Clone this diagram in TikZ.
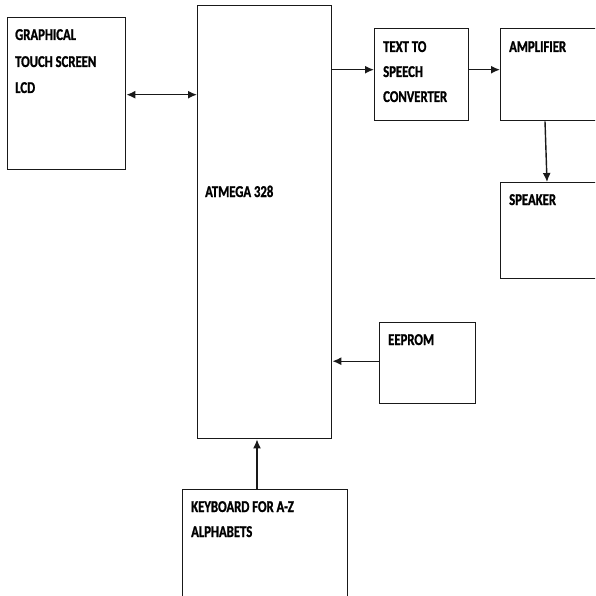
\documentclass[tikz,border=0pt]{standalone}
\usepackage{fontspec}
\setmainfont{Carlito}[FakeStretch=0.77,FakeBold=1.2]
\usetikzlibrary{arrows.meta}
\begin{document}
\begin{tikzpicture}[x=1pt,y=-1pt,
  box/.style={draw=black!90,line width=1.4pt,rectangle,inner sep=0pt,anchor=north west},
  lbl/.style={anchor=base west,inner sep=0pt,font=\fontsize{16.5}{19}\selectfont\bfseries,text=black},
  conn/.style={draw=black!90,line width=1.4pt,-{Latex[length=9pt,width=8pt]}}]
\useasboundingbox (0,0) rectangle (595,596);
\clip (0,0) rectangle (595,596);
% boxes
\node[box,minimum width=118pt,minimum height=152pt] (lcd) at (7,17) {};
\node[box,minimum width=134pt,minimum height=433pt] (atm) at (197,5) {};
\node[box,minimum width=94pt,minimum height=92pt] (tts) at (374,28) {};
\node[box,minimum width=100pt,minimum height=92pt] (amp) at (500,28) {};
\node[box,minimum width=100pt,minimum height=96pt] (spk) at (500,182) {};
\node[box,minimum width=96pt,minimum height=81pt] (eep) at (379,322) {};
\node[box,minimum width=165pt,minimum height=130pt] (kbd) at (182,489) {};
% labels
\node[lbl] (l1) at (15,40) {GRAPHICAL};
\node[lbl] (l2) at (15,67) {TOUCH SCREEN};
\node[lbl] (l3) at (15,93) {LCD};
\node[lbl] (a1) at (205,197) {ATMEGA 328};
\node[lbl] (t1) at (383,52) {TEXT TO};
\node[lbl] (t2) at (383,77) {SPEECH};
\node[lbl] (t3) at (383,102) {CONVERTER};
\node[lbl] (m1) at (509,52) {AMPLIFIER};
\node[lbl] (s1) at (509,205) {SPEAKER};
\node[lbl] (e1) at (388,345) {EEPROM};
\node[lbl] (k1) at (191,512) {KEYBOARD FOR A-Z};
\node[lbl] (k2) at (191,537) {ALPHABETS};
% connectors
\draw[conn,{Latex[length=9pt,width=8pt]}-{Latex[length=9pt,width=8pt]}] ([yshift=-1pt]lcd.east) -- ([yshift=-1pt]lcd.east -| atm.west);
\draw[conn] ([yshift=5pt]tts.west -| atm.east) -- ([yshift=5pt]tts.west);
\draw[conn] ([yshift=5pt]tts.east) -- ([yshift=5pt]tts.east -| amp.west);
\draw[conn] ([xshift=45pt]amp.south west) -- ([xshift=47pt]spk.north west);
\draw[conn] ([yshift=2pt]eep.west) -- ([yshift=2pt]eep.west -| atm.east);
\draw[conn] ([xshift=75pt]kbd.north west) -- ([xshift=75pt]kbd.north west |- atm.south);
\end{tikzpicture}
\end{document}
